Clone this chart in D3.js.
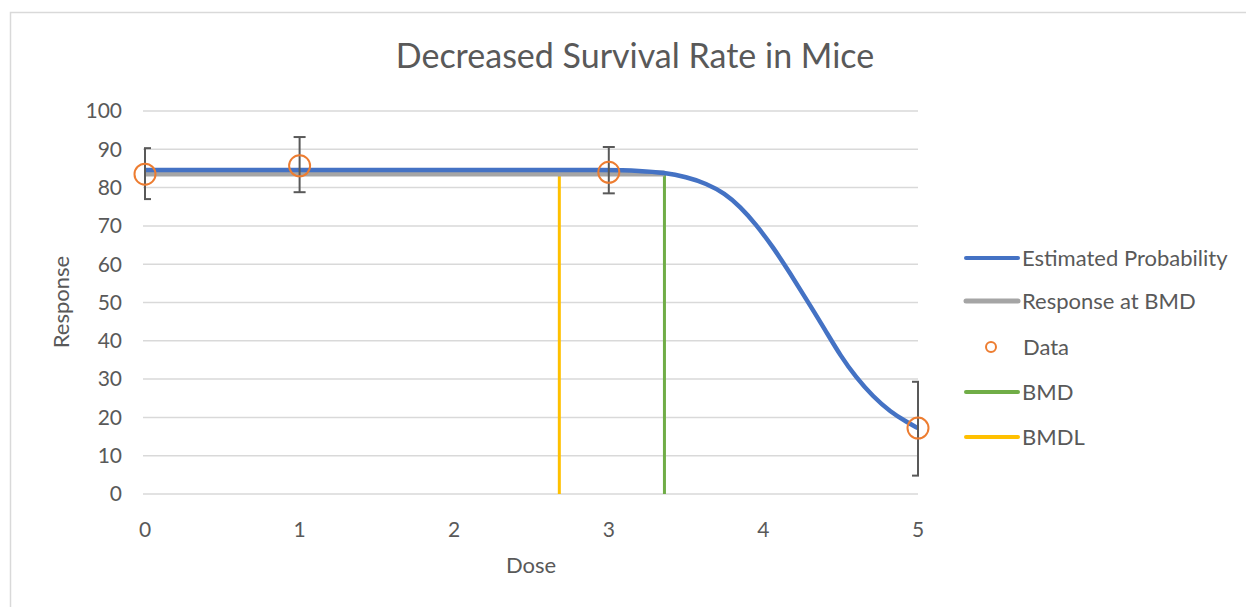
<!DOCTYPE html>
<html lang="en">
<head>
  <meta charset="UTF-8">
  <title>Decreased Survival Rate in Mice</title>
  <script src="https://cdnjs.cloudflare.com/ajax/libs/d3/7.8.5/d3.min.js"></script>
  <style>
    body { margin: 0; background: #fff; }
    text { font-family: Lato, "Open Sans", sans-serif; fill: #595959; }
  </style>
</head>
<body>
<script>
  // observed data
  const doses = [0, 1, 3, 5];
  const responses = [83.5, 85.7, 84, 17.2];
  const errLow = [77, 78.8, 78.5, 4.8];
  const errHigh = [90.3, 93.2, 90.6, 29.3];

  // fitted curve
  const curveDose = [0, 0.5, 1, 1.5, 2, 2.5, 3, 3.2, 3.36, 3.5, 3.63, 3.75, 3.85, 3.95, 4.06, 4.17, 4.28, 4.4, 4.5, 4.6, 4.71, 4.82, 4.93, 5];
  const curveResp = [84.6, 84.6, 84.6, 84.6, 84.6, 84.6, 84.6, 84.4, 83.9, 82.8, 81.1, 78.5, 75.0, 70.5, 64.6, 57.8, 50.7, 42.8, 36.0, 30.4, 25.4, 21.5, 18.7, 17.2];

  const bmd = 3.36;
  const bmdl = 2.68;
  const bmdResponse = 83.7;

  const xTicks = [0, 1, 2, 3, 4, 5];
  const yTicks = [0, 10, 20, 30, 40, 50, 60, 70, 80, 90, 100];

  const legendItems = ["Estimated Probability", "Response at BMD", "Data", "BMD", "BMDL"];
  const colors = {blue: "#4472C4", gray: "#A5A5A5", orange: "#ED7D31", green: "#70AD47", yellow: "#FFC000"};

  const w = 1246, h = 607;
  const plotLeft = 145, plotRight = 918, plotTop = 111, plotBottom = 494;

  const svg = d3.select("body").append("svg").attr("width", w).attr("height", h);

  svg.append("rect")
    .attr("x", 10.5).attr("y", 12.5).attr("width", 1260).attr("height", 620)
    .attr("fill", "#fff").attr("stroke", "#d9d9d9").attr("stroke-width", 1.5);

  const x = d3.scaleLinear().domain([0, 5]).range([plotLeft, plotRight]);
  const y = d3.scaleLinear().domain([0, 100]).range([plotBottom, plotTop]);

  // gridlines
  svg.append("g").selectAll("line").data(yTicks).enter().append("line")
    .attr("x1", plotLeft - 2).attr("x2", plotRight)
    .attr("y1", d => y(d)).attr("y2", d => y(d))
    .attr("stroke", "#d9d9d9").attr("stroke-width", 1.5);

  // y tick labels
  svg.append("g").selectAll("text").data(yTicks).enter().append("text")
    .attr("x", 122).attr("y", d => y(d)).attr("dy", "0.35em")
    .attr("text-anchor", "end").attr("font-size", 21).text(d => d);

  // x tick labels
  svg.append("g").selectAll("text").data(xTicks).enter().append("text")
    .attr("x", d => x(d)).attr("y", 537)
    .attr("text-anchor", "middle").attr("font-size", 21).text(d => d);

  svg.append("text").attr("x", 635).attr("y", 68).attr("text-anchor", "middle")
    .attr("font-size", 34).text("Decreased Survival Rate in Mice");
  svg.append("text").attr("x", 531).attr("y", 573).attr("text-anchor", "middle")
    .attr("font-size", 22).text("Dose");
  svg.append("text").attr("transform", "translate(69,302) rotate(-90)").attr("text-anchor", "middle")
    .attr("font-size", 22).text("Response");

  // BMDL / BMD verticals
  svg.append("line").attr("x1", x(bmdl)).attr("x2", x(bmdl))
    .attr("y1", y(0)).attr("y2", y(bmdResponse))
    .attr("stroke", colors.yellow).attr("stroke-width", 3);
  svg.append("line").attr("x1", x(bmd)).attr("x2", x(bmd))
    .attr("y1", y(0)).attr("y2", y(bmdResponse))
    .attr("stroke", colors.green).attr("stroke-width", 3);

  // response at BMD
  svg.append("line").attr("x1", x(0)).attr("x2", x(bmd))
    .attr("y1", y(bmdResponse)).attr("y2", y(bmdResponse))
    .attr("stroke", colors.gray).attr("stroke-width", 6);

  // estimated curve
  const line = d3.line().x(d => x(d[0])).y(d => y(d[1])).curve(d3.curveBasis);
  svg.append("path").datum(curveDose.map((d, i) => [d, curveResp[i]]))
    .attr("d", line).attr("fill", "none")
    .attr("stroke", colors.blue).attr("stroke-width", 4.5);

  // error bars, clipped to plot area
  svg.append("clipPath").attr("id", "plotclip").append("rect")
    .attr("x", plotLeft - 1).attr("y", 0).attr("width", plotRight - plotLeft + 2).attr("height", h);
  const eb = svg.append("g").attr("clip-path", "url(#plotclip)")
    .attr("stroke", "#595959").attr("stroke-width", 2).attr("fill", "none");
  doses.forEach((d, i) => {
    const cx = x(d);
    eb.append("line").attr("x1", cx).attr("x2", cx).attr("y1", y(errLow[i])).attr("y2", y(errHigh[i]));
    eb.append("line").attr("x1", cx - 6).attr("x2", cx + 6).attr("y1", y(errLow[i])).attr("y2", y(errLow[i]));
    eb.append("line").attr("x1", cx - 6).attr("x2", cx + 6).attr("y1", y(errHigh[i])).attr("y2", y(errHigh[i]));
  });

  // data points
  svg.append("g").selectAll("circle").data(doses).enter().append("circle")
    .attr("cx", d => x(d)).attr("cy", (d, i) => y(responses[i])).attr("r", 10.5)
    .attr("fill", "none").attr("stroke", colors.orange).attr("stroke-width", 2);

  // legend
  const legendColors = [colors.blue, colors.gray, colors.orange, colors.green, colors.yellow];
  const legendY = [258, 301, 347, 392, 437];
  const lg = svg.append("g");
  legendItems.forEach((name, i) => {
    if (name === "Data") {
      lg.append("circle").attr("cx", 991).attr("cy", legendY[i]).attr("r", 5)
        .attr("fill", "none").attr("stroke", colors.orange).attr("stroke-width", 2);
    } else {
      lg.append("line").attr("x1", 966).attr("x2", 1018)
        .attr("y1", legendY[i]).attr("y2", legendY[i])
        .attr("stroke", legendColors[i]).attr("stroke-width", i === 1 ? 5 : 4)
        .attr("stroke-linecap", "round");
    }
    lg.append("text").attr("x", name === "Data" ? 1023 : 1022).attr("y", legendY[i]).attr("dy", "0.35em")
      .attr("font-size", 22).text(name);
  });
</script>
</body>
</html>
